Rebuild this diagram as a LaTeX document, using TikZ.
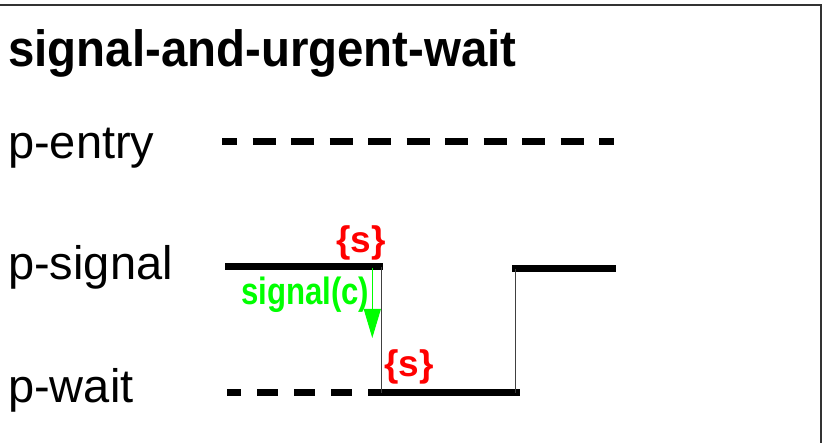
\documentclass[tikz,border=0pt]{standalone}
\usepackage{fontspec}
\setmainfont{Liberation Sans}
\usetikzlibrary{arrows.meta}
\definecolor{sgreen}{RGB}{0,255,0}
\definecolor{sred}{RGB}{255,0,0}
\tikzset{
  lbl/.style={anchor=base west, inner sep=0pt, font=\fontsize{47}{50}\selectfont},
  ttl/.style={anchor=base west, inner sep=0pt, font=\fontsize{51}{54}\selectfont\bfseries},
  setlbl/.style={anchor=base west, inner sep=0pt, text=sred, font=\fontsize{37}{40}\selectfont\bfseries},
  siglbl/.style={anchor=base west, inner sep=0pt, text=sgreen, font=\fontsize{38}{40}\selectfont\bfseries},
  state/.style={line width=7pt, line cap=butt},
  dashstate/.style={state, dash pattern=on 23pt off 15.5pt, dash phase=8pt},
  dashstateb/.style={state, dash pattern=on 21pt off 16pt, dash phase=7pt},
  trans/.style={line width=1.5pt, draw=black!75},
  sigarrow/.style={line width=1pt, draw=sgreen, -{Triangle[length=29pt, width=17pt, fill=sgreen]}},
  frame/.style={line width=1.5pt, draw=black!80}
}
\begin{document}
\begin{tikzpicture}[x=1pt, y=-1pt]
\useasboundingbox (0,0) rectangle (823,443);
% frame (top and right edges)
\coordinate (fl) at (0,5);
\coordinate (fc) at (821,5);
\coordinate (fb) at (821,443);
\draw[frame] (fl) -- (fc) -- (fb);
% title and labels
\node[ttl] (title) at (8,67) {\scalebox{0.93}[1]{signal-and-urgent-wait}};
\node[lbl] (entry) at (8,159) {p-entry};
\node[lbl] (signal) at (8,280) {p-signal};
\node[lbl] (wait) at (8,403) {p-wait};
% coordinates
\coordinate (e1) at (222,142);
\coordinate (e2) at (614,142);
\coordinate (s1) at (225,267);
\coordinate (s2) at (383,267);
\coordinate (v1t) at (381.5,267);
\coordinate (v1b) at (381.5,393);
\coordinate (w1) at (227,393);
\coordinate (w2) at (369,393);
\coordinate (w3) at (520,393);
\coordinate (v2b) at (515.7,393);
\coordinate (v2t) at (515.7,269);
\coordinate (s3) at (512,269);
\coordinate (s4) at (616,269);
\coordinate (a1) at (372.3,268);
\coordinate (a2) at (372.3,338);
% state lines
\draw[dashstate] (e1) -- (e2);
\draw[state] (s1) -- (s2);
\draw[dashstateb] (w1) -- (w2);
\draw[state] (w2) -- (w3);
\draw[state] (s3) -- (s4);
% transitions
\draw[trans] (v1t) -- (v1b);
\draw[trans] (v2b) -- (v2t);
\draw[sigarrow] (a1) -- (a2);
% annotations
\node[setlbl] (set1) at (336,253) {\{s\}};
\node[setlbl] (set2) at (384,377) {\{s\}};
\node[siglbl] (sig) at (241,305) {\scalebox{0.82}[1]{signal(c)}};
\end{tikzpicture}
\end{document}
